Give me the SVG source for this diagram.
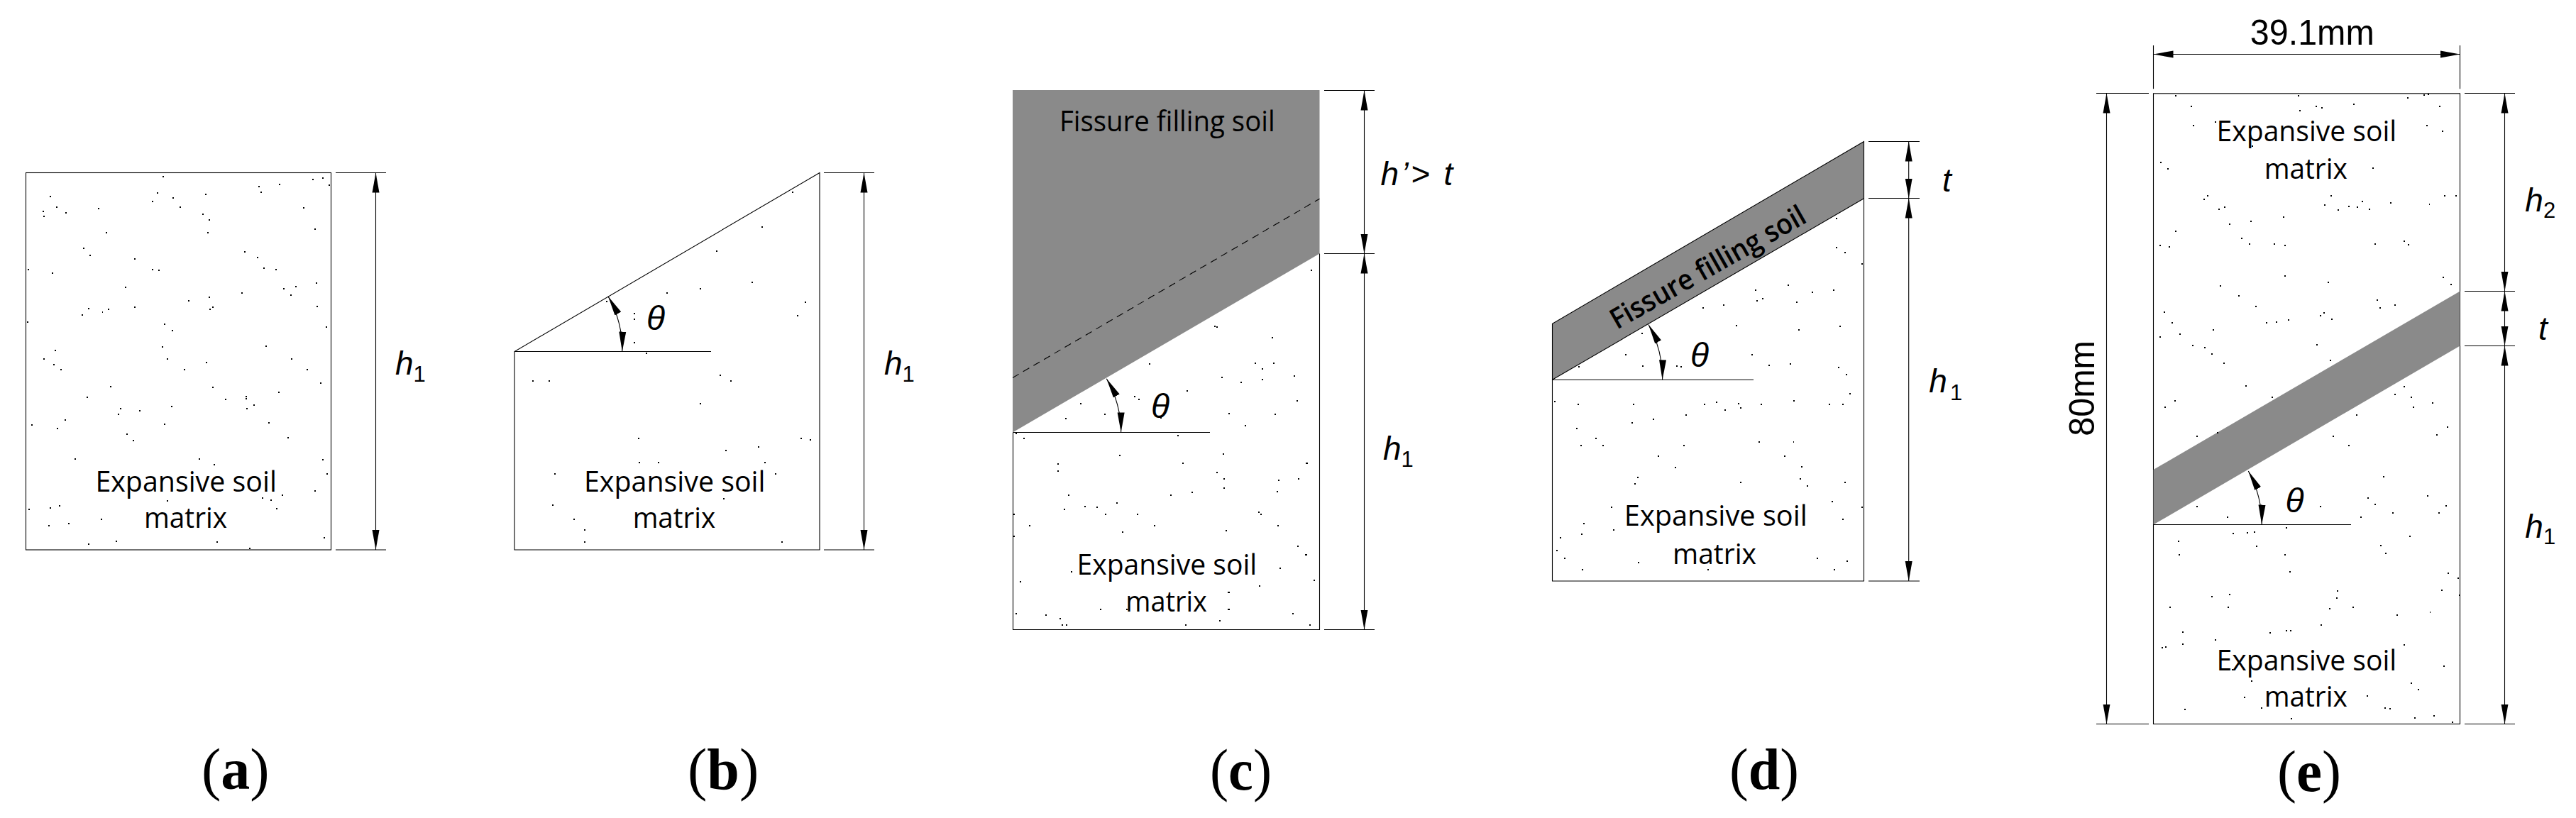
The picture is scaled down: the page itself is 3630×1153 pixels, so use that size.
<svg xmlns="http://www.w3.org/2000/svg" width="3630" height="1153" viewBox="0 0 3630 1153">
<style>
.bg{fill:#fff}
.ol{fill:none;stroke:#000;stroke-width:1.1}
.dl{fill:none;stroke:#000;stroke-width:1.1}
.arr{marker-start:url(#ah);marker-end:url(#ah)}
.gr{fill:#8a8a8a}
.dots{fill:none;stroke:#000;stroke-width:2;vector-effect:non-scaling-stroke;shape-rendering:crispEdges}
text{fill:#000}
.lb{font-family:"Open Sans","Noto Sans",sans-serif;font-size:40px}
.it{font-family:"Liberation Sans",Arial,sans-serif;font-size:46px;font-style:italic}
.sub{font-style:normal;font-size:31px}
.th{font-family:"Liberation Sans",Arial,sans-serif;font-size:48px;font-style:italic}
.ar{font-family:"Liberation Sans",Arial,sans-serif;font-size:50px}
.cap{font-family:"Liberation Serif","Times New Roman",serif;font-size:82px}
.b{font-weight:bold}
</style>
<defs>
<marker id="ah" markerUnits="userSpaceOnUse" markerWidth="30" markerHeight="12" refX="28" refY="6" orient="auto-start-reverse"><path d="M0 1L28 6L0 11Z" fill="#000"/></marker>
</defs>
<rect class="bg" width="3630" height="1153"/>

<g id="panel-a">
<rect class="ol" x="36.5" y="243.5" width="430" height="531.5"/>
<path class="dots" transform="translate(0,200) scale(.8295,.608)" d="M276 80h2.4M530 87h2.4M547 84h2.4M558 100h2.4M474 98h2.4M439 104h2.4M442 116h2.4M348 121h2.4M266 118h2.4M84 126h2.4M293 130h2.4M258 138h2.4M95 152h2.4M72 162h2.4M111 164h2.4M74 172h2.4M166 154h2.4M305 152h2.4M344 167h2.4M355 181h2.4M515 153h2.4M534 202h2.4M180 210h2.4M352 210h2.4M141 246h2.4M152 263h2.4M415 255h2.4M437 268h2.4M228 271h2.4M447 293h2.4M468 296h2.4M258 296h2.4M269 297h2.4M47 296h2.4M88 305h2.4M537 328h2.4M502 336h2.4M481 340h2.4M212 337h2.4M493 355h2.4M410 351h2.4M354 361h2.4M320 368h2.4M360 384h2.4M356 388h2.4M228 384h2.4M150 386h2.4M183 388h2.4M173 394h2.4M139 401h2.4M538 381h2.4M46 417h2.4M278 422h2.4M553 429h2.4M292 437h2.4M275 475h2.4M451 474h2.4M93 484h2.4M73 503h2.4M283 503h2.4M494 503h2.4M90 516h2.4M350 511h2.4M102 528h2.4M312 528h2.4M521 528h2.4M544 559h2.4M187 567h2.4M361 569h2.4M472 580h2.4M147 592h2.4M382 597h2.4M417 590h2.4M417 596h2.4M430 611h2.4M418 618h2.4M290 613h2.4M204 618h2.4M236 623h2.4M200 631h2.4M110 645h2.4M278 654h2.4M456 651h2.4M53 657h2.4M97 664h2.4M214 677h2.4M226 692h2.4M488 686h2.4M127 736h2.4M338 736h2.4M547 737h2.4M363 748h2.4M555 770h2.4M534 809h2.4M479 819h2.4M445 826h2.4M459 830h2.4M283 833h2.4M100 843h2.4M84 848h2.4M48 852h2.4M469 851h2.4M171 875h2.4M116 885h2.4M82 890h2.4M550 917h2.4M196 926h2.4M368 927h2.4M149 933h2.4M423 942h2.4"/>
<text class="lb" x="134.4" y="692.5" textLength="255.5" lengthAdjust="spacingAndGlyphs">Expansive soil</text>
<text class="lb" x="203" y="744" textLength="117" lengthAdjust="spacingAndGlyphs">matrix</text>
<text class="it" x="557" y="528">h<tspan class="sub" dy="10">1</tspan></text>
<text class="cap" x="284" y="1112">(<tspan class="b">a</tspan>)</text>
</g>

<g id="panel-b">
<path class="ol" d="M725 495.5V775H1155V243.5ZM725 495.5H1002"/>
<path class="dots" transform="translate(0,200) scale(.8295,.608)" d="M1345 116h2.4M1293 198h2.4M1216 254h2.4M1277 325h2.4M1189 340h2.4M1132 350h2.4M1030 370h2.4M1076 398h2.4M1076 412h2.4M1367 371h2.4M1354 403h2.4M1076 465h2.4M1097 490h2.4M904 555h2.4M932 555h2.4M1222 541h2.4M1241 555h2.4M1189 607h2.4M1084 687h2.4M1360 688h2.4M1376 691h2.4M1232 716h2.4M1288 707h2.4M1085 743h2.4M1117 743h2.4M1298 743h2.4M942 769h2.4M1317 769h2.4M1229 827h2.4M938 842h2.4M974 875h2.4M992 899h2.4M992 927h2.4M1327 927h2.4"/>
<text class="lb" x="823" y="692.5" textLength="255.5" lengthAdjust="spacingAndGlyphs">Expansive soil</text>
<text class="lb" x="891.7" y="744" textLength="116.5" lengthAdjust="spacingAndGlyphs">matrix</text>
<text class="th" x="911" y="464.5">θ</text>
<text class="it" x="1246" y="528">h<tspan class="sub" dy="10">1</tspan></text>
<text class="cap" x="969" y="1112">(<tspan class="b">b</tspan>)</text>
</g>

<g id="panel-c">
<path class="gr" d="M1427 127H1859.5V357.5L1427 609.5Z"/>
<path class="ol" d="M1427.5 609.5V887.5H1859.5V357.5M1427.5 609.5H1705"/>
<path class="dl" stroke-dasharray="10 7" d="M1427 532.4L1859.5 280.2"/>
<path class="dots" transform="translate(1380,100) scale(.5094,.6725)" d="M917 418h4M650 535h4M655 537h4M809 559h4M470 614h4M762 612h4M781 624h4M813 613h4M669 643h4M723 653h4M782 647h4M870 640h4M573 671h4M278 697h4M428 683h4M440 688h4M878 691h4M345 720h4M237 728h4M689 718h4M817 720h4M735 743h4M500 727h4M122 771h4M100 760h4M547 765h4M386 806h4M674 803h4M216 824h4M216 838h4M561 823h4M904 823h4M656 842h4M675 855h4M882 855h4M826 858h4M675 875h4M823 882h4M245 889h4M528 889h4M586 884h4M378 905h4M290 913h4M324 914h4M233 919h4M347 930h4M436 930h4M772 925h4M778 930h4M94 930h4M138 953h4M394 967h4M482 953h4M682 964h4M825 953h4M94 976h4M880 997h4M902 1014h4M254 1050h4M830 1043h4M112 1070h4M925 1067h4M774 1080h4M688 1093h4M407 1128h4M333 1128h4M688 1128h4M100 1137h4M182 1140h4M222 1148h4M228 1161h4M240 1161h4M570 1161h4M664 1152h4M865 1138h4M912 1161h4"/>
<text class="lb" x="1493" y="185.4" textLength="303.6" lengthAdjust="spacingAndGlyphs">Fissure filling soil</text>
<text class="lb" x="1517.5" y="809.5" textLength="253.7" lengthAdjust="spacingAndGlyphs">Expansive soil</text>
<text class="lb" x="1586.3" y="862" textLength="114.6" lengthAdjust="spacingAndGlyphs">matrix</text>
<text class="th" x="1622" y="589">θ</text>
<text class="it" x="1945.4" y="261.4" textLength="102" lengthAdjust="spacing">h’&gt; t</text>
<text class="it" x="1949" y="648">h<tspan class="sub" dy="10">1</tspan></text>
<text class="cap" x="1705" y="1113" textLength="87" lengthAdjust="spacingAndGlyphs">(<tspan class="b">c</tspan>)</text>
</g>

<g id="panel-d">
<path class="gr" d="M2187.5 456.2L2626.5 199.5V279.8L2187.5 535.3Z"/>
<path class="ol" d="M2187.5 456.2V819H2626.5V199.5ZM2187.5 535.3L2626.5 279.8M2187.5 535.3H2471"/>
<path class="dots" transform="translate(2150,170) scale(.4142,.6277)" d="M1056 220h4.8M1055 285h4.8M1085 296h4.8M1142 322h4.8M892 370h4.8M780 381h4.8M972 386h4.8M1045 381h4.8M785 404h4.8M805 400h4.8M921 408h4.8M672 414h4.8M602 421h4.8M714 461h4.8M1067 462h4.8M926 470h4.8M394 478h4.8M337 526h4.8M178 553h4.8M395 551h4.8M513 552h4.8M527 553h4.8M768 525h4.8M825 549h4.8M899 547h4.8M1063 554h4.8M1090 570h4.8M1100 614h4.8M97 631h4.8M176 638h4.8M364 638h4.8M605 638h4.8M648 633h4.8M723 636h4.8M728 646h4.8M800 638h4.8M911 630h4.8M1032 638h4.8M1076 638h4.8M675 650h4.8M543 661h4.8M359 678h4.8M432 670h4.8M171 692h4.8M236 714h4.8M185 730h4.8M261 730h4.8M537 730h4.8M793 722h4.8M909 722h4.8M448 754h4.8M878 754h4.8M506 779h4.8M936 778h4.8M380 802h4.8M931 804h4.8M370 815h4.8M730 812h4.8M957 821h4.8M1083 813h4.8M1040 855h4.8M290 868h4.8M1143 868h4.8M195 905h4.8M298 919h4.8M1076 895h4.8M188 929h4.8M115 936h4.8M103 966h4.8M131 983h4.8M381 992h4.8M740 990h4.8M989 983h4.8M1092 989h4.8M190 1009h4.8M617 1009h4.8M1047 1008h4.8"/>
<text class="lb" font-weight="600" transform="translate(2278.4,465) rotate(-29.5)" textLength="310" lengthAdjust="spacingAndGlyphs">Fissure filling soil</text>
<text class="lb" x="2288.8" y="741" textLength="258" lengthAdjust="spacingAndGlyphs">Expansive soil</text>
<text class="lb" x="2357" y="794.6" textLength="118" lengthAdjust="spacingAndGlyphs">matrix</text>
<text class="th" x="2382" y="516.5">θ</text>
<text class="it" x="2737" y="270.4">t</text>
<text class="it" x="2718.3" y="553">h<tspan class="sub" dy="11" dx="4">1</tspan></text>
<text class="cap" x="2437" y="1111.6" textLength="98" lengthAdjust="spacingAndGlyphs">(<tspan class="b">d</tspan>)</text>
</g>

<g id="panel-e">
<rect class="ol" x="3034.5" y="131.8" width="432" height="888.7"/>
<path class="gr" d="M3034.5 662L3466.5 410.5V487.5L3034.5 739.5Z"/>
<path class="ol" d="M3034.5 739.5H3313"/>
<path class="dots" transform="translate(2850,0) scale(.4974,.7363)" d="M432 183h4M781 183h4M1090 187h4M1135 182h4M1148 181h4M477 204h4M785 212h4M830 204h4M847 207h4M937 199h4M1181 204h4M482 240h4M544 233h4M1144 241h4M1188 251h4M650 280h4M391 311h4M410 323h4M992 322h4M523 375h4M512 381h4M873 375h4M1195 375h4M1226 375h4M555 400h4M570 397h4M855 393h4M893 402h4M922 395h4M947 396h4M962 386h4M981 401h4M1041 388h4M1151 391h4M738 416h4M586 429h4M645 424h4M433 443h4M620 456h4M388 470h4M415 472h4M642 467h4M711 467h4M741 470h4M997 467h4M1080 462h4M1092 469h4M742 528h4M864 541h4M1190 531h4M1213 545h4M558 548h4M612 567h4M1003 574h4M843 604h4M852 599h4M875 611h4M1012 590h4M1053 584h4M660 587h4M401 597h4M422 618h4M690 618h4M718 617h4M751 613h4M538 631h4M445 640h4M388 645h4M833 660h4M480 661h4M514 665h4M534 678h4M568 696h4M870 690h4M632 739h4M706 760h4M430 767h4M402 780h4M550 828h4M493 835h4M1080 740h4M1100 760h4M1054 755h4M1105 780h4M1160 772h4M1173 832h4M1202 817h4M878 835h4M922 853h4M945 795h4M1146 950h4M843 970h4M1022 912h4M978 953h4M998 965h4M1048 982h4M1178 982h4M1198 969h4M957 990h4M580 990h4M492 970h4M595 1022h4M635 1020h4M655 1018h4M662 1046h4M440 1036h4M443 1062h4M746 1010h4M742 1062h4M1096 1027h4M1014 1045h4M1027 1060h4M755 1095h4M1205 1097h4M1232 1107h4M890 1132h4M888 1145h4M1187 1130h4M535 1142h4M585 1138h4M582 1162h4M417 1162h4M868 1165h4M935 1162h4M1153 1172h4M1237 1140h4M845 1197h4M1060 1178h4M700 1212h4M745 1207h4M758 1207h4M452 1210h4M452 1233h4M545 1225h4M395 1240h4M405 1238h4M1080 1235h4M1192 1275h4M594 1282h4M648 1304h4M1100 1308h4M1120 1320h4M628 1335h4M975 1333h4M675 1355h4M458 1358h4M1025 1355h4M1040 1357h4M1110 1375h4M1165 1370h4M1217 1382h4M760 1376h4"/>
<text class="lb" x="3123.6" y="198.8" textLength="253.6" lengthAdjust="spacingAndGlyphs">Expansive soil</text>
<text class="lb" x="3190.7" y="251.8" textLength="117" lengthAdjust="spacingAndGlyphs">matrix</text>
<text class="lb" x="3123.6" y="944.7" textLength="253.6" lengthAdjust="spacingAndGlyphs">Expansive soil</text>
<text class="lb" x="3190.7" y="996" textLength="117" lengthAdjust="spacingAndGlyphs">matrix</text>
<text class="th" x="3220.6" y="721.6">θ</text>
<text class="ar" x="3170.8" y="62.6" textLength="175" lengthAdjust="spacingAndGlyphs">39.1mm</text>
<text class="ar" transform="translate(2951,614.8) rotate(-90)" textLength="134.8" lengthAdjust="spacingAndGlyphs">80mm</text>
<text class="it" x="3558.3" y="298">h<tspan class="sub" dy="9">2</tspan></text>
<text class="it" x="3577" y="478.6">t</text>
<text class="it" x="3558.3" y="758.4">h<tspan class="sub" dy="9">1</tspan></text>
<text class="cap" x="3209" y="1115" textLength="90" lengthAdjust="spacingAndGlyphs">(<tspan class="b">e</tspan>)</text>
</g>

<g id="connectors">
<path class="dl" d="M473 243.5H544M473 775H544"/>
<path class="dl arr" d="M529.5 243.5V775"/>
<path class="dl" d="M1161 243.5H1232M1161 775H1232"/>
<path class="dl arr" d="M1217.5 243.5V775"/>
<path class="dl arr" d="M857 417.7A152 152 0 0 1 876.8 495.5"/>
<path class="dl" d="M1866 127.5H1937M1866 357.5H1937M1866 887.5H1937"/>
<path class="dl arr" d="M1922.5 127.5V357.5"/>
<path class="dl arr" d="M1922.5 357.5V887.5"/>
<path class="dl arr" d="M1559.3 533.8A152 152 0 0 1 1579.7 609.5"/>
<path class="dl" d="M2633 199.5H2705M2633 279.5H2705M2633 819H2705"/>
<path class="dl arr" d="M2689.7 199.5V279.5"/>
<path class="dl arr" d="M2689.7 279.5V819"/>
<path class="dl arr" d="M2323 457.5A155 155 0 0 1 2342.6 535.3"/>
<path class="dl" d="M3034.5 64V125.2M3466.5 64V125.2"/>
<path class="dl arr" d="M3034.5 76.5H3466.5"/>
<path class="dl" d="M2954 131.5H3028M2954 1020.5H3028"/>
<path class="dl arr" d="M2968.5 131.5V1020.5"/>
<path class="dl" d="M3473 131.5H3544M3473 410.5H3544M3473 487.5H3544M3473 1020.5H3544"/>
<path class="dl arr" d="M3529.5 131.5V410.5"/>
<path class="dl arr" d="M3529.5 410.5V487.5"/>
<path class="dl arr" d="M3529.5 487.5V1020.5"/>
<path class="dl arr" d="M3168.3 664A153 153 0 0 1 3187.2 739.5"/>
</g>
</svg>
